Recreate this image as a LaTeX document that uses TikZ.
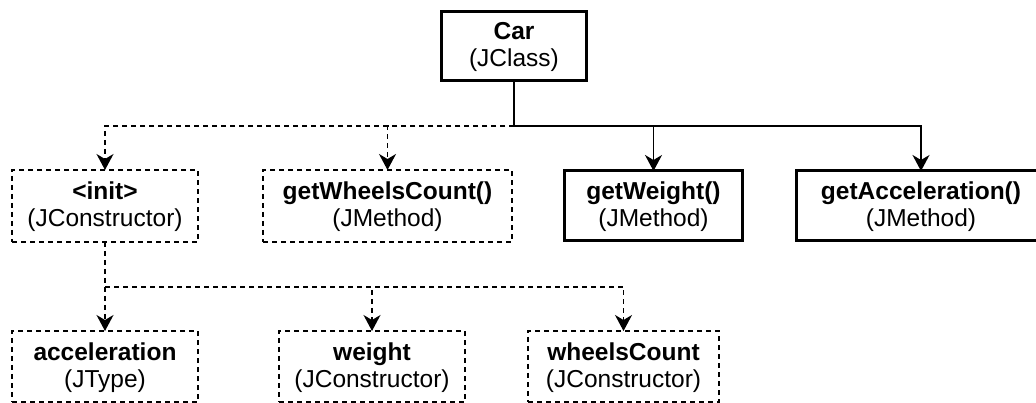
\documentclass[tikz,border=0pt]{standalone}
\usepackage{fontspec}
\setmainfont{Liberation Sans}
\usetikzlibrary{arrows.meta}
\begin{document}
\begin{tikzpicture}[x=1pt,y=-1pt,
  box/.style={draw, inner sep=0pt, outer sep=0pt, align=center,
    text height=47pt, text depth=6pt,
    font=\fontsize{24.5}{27}\selectfont},
  solidbox/.style={box, line width=3pt, minimum height=70pt},
  dashbox/.style={box, line width=1.3pt, dash pattern=on 5pt off 4pt, minimum height=72pt},
  link/.style={line width=1.4pt},
  dlink/.style={link, dash pattern=on 5pt off 4pt},
  tip/.style={-{Stealth[length=16pt,width=17pt,inset=5pt]}}
]
\useasboundingbox (0,0) rectangle (1036,403);
\clip (0,0) rectangle (1036,403);

% class node
\node[solidbox, minimum width=145pt, minimum height=69pt] (car) at (514,46) {\textbf{Car}\\(JClass)};

% members
\node[dashbox, minimum width=186pt] (init) at (105,206) {\textbf{<init>}\\(JConstructor)};
\node[dashbox, minimum width=249pt] (gwc) at (387.5,206) {\textbf{getWheelsCount()}\\(JMethod)};
\node[solidbox, minimum width=178pt] (gw) at (653.5,206) {\textbf{getWeight()}\\(JMethod)};
\node[solidbox, minimum width=249pt] (ga) at (921,206) {\textbf{getAcceleration()}\\(JMethod)};

% constructor parameters
\node[dashbox, minimum width=186pt, minimum height=71pt] (accel) at (105,366.5) {\textbf{acceleration}\\(JType)};
\node[dashbox, minimum width=186pt, minimum height=71pt] (weight) at (372,366.5) {\textbf{weight}\\(JConstructor)};
\node[dashbox, minimum width=191pt, minimum height=71pt] (wcount) at (623.5,366.5) {\textbf{wheelsCount}\\(JConstructor)};

% branching points
\coordinate (hub) at (514,126);
\coordinate (hub2) at (105,287);

% connectors from the class
\draw[link] (car.south) -- (hub);
\draw[dlink, tip] (hub) -| (init.north);
\draw[dlink, tip] (hub) -| (gwc.north);
\draw[link, tip] (hub) -| (gw.north);
\draw[link, tip] (hub) -| (ga.north);

% connectors from the constructor
\draw[dlink] (init.south) -- (hub2);
\draw[dlink, tip] (hub2) -- (accel.north);
\draw[dlink, tip] (hub2) -| (weight.north);
\draw[dlink, tip] (hub2) -| (wcount.north);
\end{tikzpicture}
\end{document}
